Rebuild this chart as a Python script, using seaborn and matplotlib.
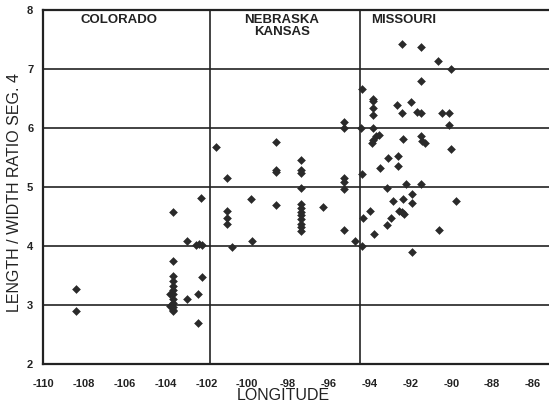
import pandas as pd
import numpy as np
import matplotlib
matplotlib.use('Agg')
import matplotlib.pyplot as plt
import seaborn as sns

# ── data ─────────────────────────────────────────────────────────
colorado_lon = [-108.4, -108.4,
                -103.65, -103.65, -103.65, -103.65, -103.65, -103.65, -103.65,
                -103.65, -103.65, -103.65, -103.65, -103.65, -103.8, -103.8,
                -102.96, -102.96, -102.5, -102.35, -102.2,
                -102.28, -102.23, -102.39, -102.39]
colorado_ratio = [3.27, 2.89,
                  4.57, 3.75, 3.49, 3.40, 3.32, 3.25, 3.18,
                  3.10, 3.03, 2.97, 2.92, 2.89, 3.19, 2.98,
                  4.08, 3.10, 4.02, 4.03, 4.02,
                  4.81, 3.47, 3.19, 2.69]

kansas_lon = [-101.54, -101.0, -100.97, -100.97, -100.97, -100.76,
              -99.83, -99.78,
              -98.6, -98.6, -98.6, -98.6,
              -97.38, -97.38, -97.38, -97.38, -97.38, -97.38, -97.38, -97.38,
              -97.38, -97.38, -97.38, -97.38,
              -96.27,
              -95.26, -95.26, -95.26, -95.26, -95.26, -95.26,
              -94.74, -94.4]
kansas_ratio = [5.67, 5.15, 4.59, 4.47, 4.38, 3.99,
                4.80, 4.08,
                5.76, 5.29, 5.25, 4.70,
                5.45, 5.28, 5.24, 4.99, 4.72, 4.65, 4.58, 4.52,
                4.45, 4.38, 4.32, 4.25,
                4.66,
                6.11, 6.00, 5.15, 5.08, 4.97, 4.27,
                4.09, 4.00]

missouri_lon = [-94.42, -94.39, -94.36, -94.34,
                -93.82, -93.82, -93.82, -93.82, -93.82, -93.7, -93.55, -93.82, -93.9,
                -93.99, -93.79,
                -93.5, -93.17, -93.14, -93.09, -92.97,
                -92.84, -92.68, -92.6, -92.6, -92.41, -92.41, -92.36, -92.39,
                -92.57, -92.41, -92.3,
                -92.22, -91.98, -91.95, -91.92, -91.92,
                -91.7, -91.5, -91.5, -91.5, -91.5, -91.45, -91.3, -91.49,
                -90.66, -90.6, -90.45, -90.12, -90.1, -90.03, -90.03, -89.77]
missouri_ratio = [6.00, 6.66, 5.22, 4.47,
                  6.50, 6.46, 6.34, 6.22, 6.00, 5.86, 5.88, 5.80, 5.75,
                  4.59, 4.20,
                  5.33, 4.99, 4.36, 5.50, 4.47,
                  4.77, 6.39, 5.53, 5.36, 7.42, 6.25, 5.81, 4.79,
                  4.60, 4.57, 4.55,
                  5.05, 6.44, 4.73, 4.88, 3.90,
                  6.27, 6.25, 7.37, 6.80, 5.86, 5.78, 5.74, 5.05,
                  7.13, 4.27, 6.26, 6.26, 6.05, 7.00, 5.65, 4.77]

state_borders = [-101.8, -94.5]
x_ticks = list(range(-110, -85, 2))
y_ticks = [2, 3, 4, 5, 6, 7, 8]

df = pd.concat([
    pd.DataFrame({'lon': colorado_lon, 'ratio': colorado_ratio, 'state': 'CO'}),
    pd.DataFrame({'lon': kansas_lon, 'ratio': kansas_ratio, 'state': 'NE/KS'}),
    pd.DataFrame({'lon': missouri_lon, 'ratio': missouri_ratio, 'state': 'MO'}),
], ignore_index=True)

# ── plot ──────────────────────────────────────────────────────────
sns.set_theme(style='white')
plt.rcParams['font.family'] = ['Liberation Sans', 'DejaVu Sans']

fig = plt.figure(figsize=(5.49, 4.04), dpi=100)
ax = fig.add_axes([43 / 549, 1 - 364 / 404, 506 / 549, 354 / 404])

sns.scatterplot(data=df, x='lon', y='ratio', marker='D', s=16,
                color='#2a2a2a', edgecolor='#2a2a2a', linewidth=0.4,
                legend=False, ax=ax, zorder=3)

for y in y_ticks[1:-1]:
    ax.axhline(y, color='#222222', lw=1.2, zorder=1)
for x in state_borders:
    ax.axvline(x, color='#222222', lw=1.2, zorder=1)

ax.set_xlim(-110, -85.22)
ax.set_ylim(2, 8)
ax.set_xticks(x_ticks)
ax.set_xticklabels([str(t) for t in x_ticks], fontweight='bold', fontsize=8)
ax.set_yticks(y_ticks)
ax.set_yticklabels([str(t) for t in y_ticks], fontweight='bold', fontsize=8)
ax.tick_params(axis='x', length=0, pad=11, colors='#222222')
ax.tick_params(axis='y', length=0, pad=7, colors='#222222')

for side in ['left', 'top', 'bottom']:
    ax.spines[side].set_color('#222222')
    ax.spines[side].set_linewidth(1.6)
ax.spines['right'].set_visible(False)

ax.set_xlabel('LONGITUDE', fontsize=11.5, color='#222222')
ax.xaxis.set_label_coords(0.475, -0.068)
ax.set_ylabel('LENGTH / WIDTH RATIO SEG. 4', fontsize=11.5, color='#222222')
ax.yaxis.set_label_coords(-0.042, 0.485)

ax.text(-106.3, 7.94, 'COLORADO', ha='center', va='top', fontsize=9.5,
        fontweight='bold', color='#222222')
ax.text(-98.3, 7.94, 'NEBRASKA\nKANSAS', ha='center', va='top', fontsize=9.5,
        fontweight='bold', color='#222222', linespacing=1.05)
ax.text(-93.94, 7.94, 'MISSOURI', ha='left', va='top', fontsize=9.5,
        fontweight='bold', color='#222222')

fig.savefig('out.png', dpi=100)
plt.close()
